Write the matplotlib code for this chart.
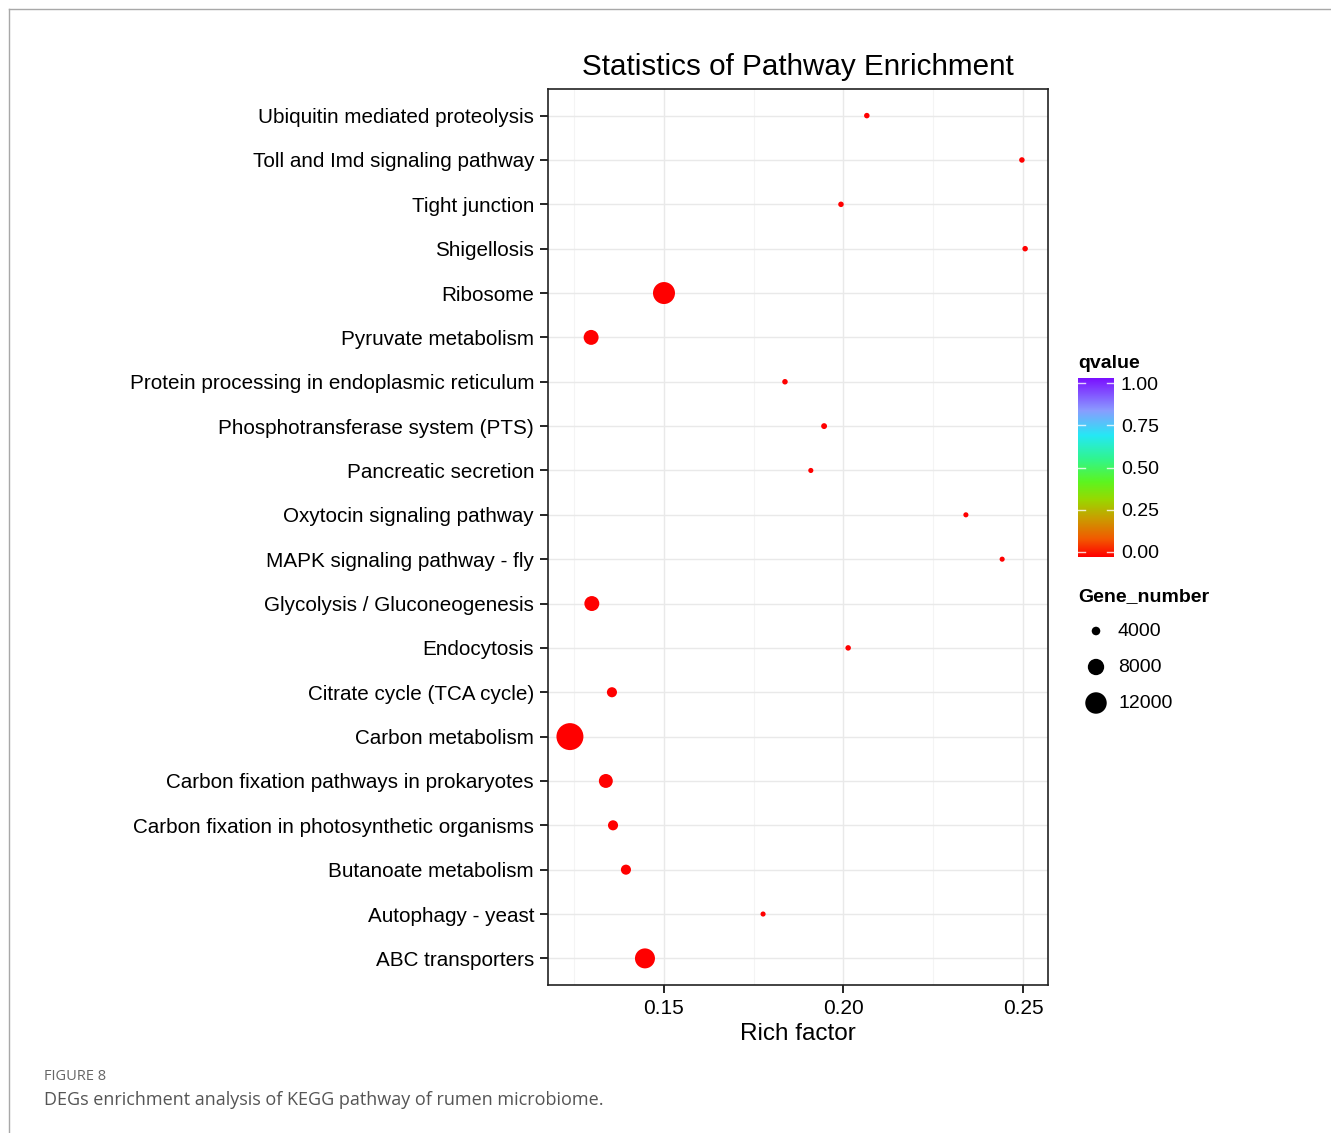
import matplotlib
matplotlib.use("Agg")
import matplotlib.pyplot as plt
import numpy as np
from matplotlib.colors import LinearSegmentedColormap
from matplotlib.lines import Line2D

plt.rcParams['font.family'] = ['Liberation Sans', 'DejaVu Sans']

# ---------------- data ----------------
pathways = [
    "ABC transporters",
    "Autophagy - yeast",
    "Butanoate metabolism",
    "Carbon fixation in photosynthetic organisms",
    "Carbon fixation pathways in prokaryotes",
    "Carbon metabolism",
    "Citrate cycle (TCA cycle)",
    "Endocytosis",
    "Glycolysis / Gluconeogenesis",
    "MAPK signaling pathway - fly",
    "Oxytocin signaling pathway",
    "Pancreatic secretion",
    "Phosphotransferase system (PTS)",
    "Protein processing in endoplasmic reticulum",
    "Pyruvate metabolism",
    "Ribosome",
    "Shigellosis",
    "Tight junction",
    "Toll and Imd signaling pathway",
    "Ubiquitin mediated proteolysis",
]
rich_factor = [0.1447, 0.1776, 0.1394, 0.1358, 0.1338, 0.1238, 0.1355, 0.2013,
               0.1299, 0.2442, 0.2341, 0.1909, 0.1946, 0.1837, 0.1297, 0.1500,
               0.2506, 0.1993, 0.2497, 0.2065]
gene_number = [12000, 3100, 4900, 4900, 7100, 19800, 4900, 3200,
               7800, 3100, 3100, 3100, 3300, 3200, 7800, 14000,
               3200, 3200, 3200, 3200]
qvalue = [0.0] * 20

x_ticks = [0.15, 0.20, 0.25]
x_ticklabels = ["0.15", "0.20", "0.25"]
q_ticks = [0.0, 0.25, 0.5, 0.75, 1.0]
q_ticklabels = ["0.00", "0.25", "0.50", "0.75", "1.00"]
size_breaks = [4000, 8000, 12000]

# ---------------- styles ----------------
cmap = LinearSegmentedColormap.from_list("qv", [
    (0.00, "#FF0000"), (0.10, "#F25A00"), (0.22, "#C8A000"), (0.32, "#99D800"),
    (0.42, "#5CF520"), (0.55, "#30F590"), (0.68, "#25E8F5"), (0.82, "#8A9CFF"),
    (1.00, "#7A10FF")])

def marker_area(v):
    d_px = np.sqrt(np.maximum(0.042 * np.asarray(v, float) - 104.0, 4.0))
    return (0.72 * d_px) ** 2

W, H = 1331, 1133
fig = plt.figure(figsize=(W / 100, H / 100), dpi=100)

def fx(px):
    return px / W

def fy(py):
    return 1 - py / H

# outer frame (top and left lines)
fig.add_artist(Line2D([fx(9), 1.0], [fy(9), fy(9)], color="#A8A8A8", lw=1.0))
fig.add_artist(Line2D([fx(9), fx(9)], [fy(9), 0.0], color="#A8A8A8", lw=1.0))

ax = fig.add_axes([fx(548), fy(985), fx(1048) - fx(548), fy(89) - fy(985)])
ypos = np.arange(1, len(pathways) + 1)

ax.set_xlim(0.11769, 0.25697)
ax.set_ylim(0.4, len(pathways) + 0.6)
ax.set_xticks(x_ticks)
ax.set_xticklabels(x_ticklabels)
ax.set_xticks([0.125, 0.175, 0.225], minor=True)
ax.set_yticks(ypos)
ax.set_yticklabels(pathways)
ax.grid(True, which="major", color="#E9E9E9", lw=1.0)
ax.grid(True, which="minor", axis="x", color="#F4F4F4", lw=0.8)
ax.set_axisbelow(True)
ax.tick_params(axis="both", which="major", length=6, width=1.2, color="black",
               labelsize=15, labelcolor="black", pad=4)
ax.tick_params(axis="y", which="major", labelsize=14.9)
ax.tick_params(axis="x", which="minor", length=0)
for sp in ax.spines.values():
    sp.set_color("#222222")
    sp.set_linewidth(1.2)

ax.scatter(rich_factor, ypos, s=marker_area(gene_number), c=qvalue, cmap=cmap,
           vmin=0, vmax=1, edgecolors="none", zorder=3)

ax.set_xlabel("Rich factor", fontsize=17.5, labelpad=4)
ax.set_title("Statistics of Pathway Enrichment", fontsize=21.3, pad=10)

# colour bar legend
cax = fig.add_axes([fx(1078), fy(557), fx(1114) - fx(1078), fy(378) - fy(557)])
grad = np.linspace(0, 1, 256).reshape(-1, 1)
cax.imshow(grad, aspect="auto", cmap=cmap, origin="lower",
           extent=[0, 1, -0.03, 1.03])
cax.set_xlim(0, 1)
cax.set_ylim(-0.03, 1.03)
for q in q_ticks:
    cax.plot([0, 0.2], [q, q], color="white", lw=1.0, alpha=0.8)
    cax.plot([0.8, 1], [q, q], color="white", lw=1.0, alpha=0.8)
cax.set_xticks([])
cax.yaxis.tick_right()
cax.set_yticks(q_ticks)
cax.set_yticklabels(q_ticklabels)
cax.tick_params(axis="y", length=0, labelsize=14, pad=5)
for sp in cax.spines.values():
    sp.set_visible(False)

fig.text(fx(1078), fy(363), "qvalue", fontsize=14, fontweight="bold",
         ha="left", va="center")
fig.text(fx(1078), fy(597), "Gene_number", fontsize=14, fontweight="bold",
         ha="left", va="center")

# size legend
lax = fig.add_axes([fx(1078), fy(722), fx(1230) - fx(1078), fy(612) - fy(722)])
lax.set_xlim(0, 152)
lax.set_ylim(722, 612)
lax.axis("off")
for i, b in enumerate(size_breaks):
    yy = 631 + 36 * i
    lax.scatter([18], [yy], s=marker_area(b) * 1.15, color="black", edgecolors="none")
    lax.text(40, yy, f"{b}", fontsize=14, ha="left", va="center")

# caption
fig.text(fx(44), fy(1077), "FIGURE 8", fontsize=10.5, color="#666666",
         family=["Open Sans", "DejaVu Sans"], ha="left", va="center")
fig.text(fx(44), fy(1100), "DEGs enrichment analysis of KEGG pathway of rumen microbiome.",
         fontsize=13, color="#555555", family=["Open Sans", "DejaVu Sans"],
         ha="left", va="center")

fig.savefig("out.png", dpi=100)
